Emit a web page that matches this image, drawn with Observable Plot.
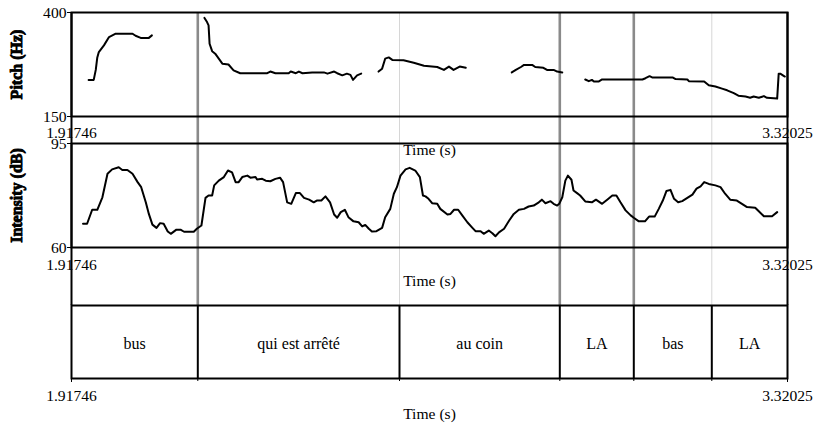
<!DOCTYPE html>
<html><head><meta charset="utf-8">
<script src="https://cdn.jsdelivr.net/npm/d3@7"></script>
<script src="https://cdn.jsdelivr.net/npm/@observablehq/plot@0.6"></script>
<style>
html,body{margin:0;padding:0;background:#fff;}
#chart{position:relative;width:814px;height:425px;overflow:hidden;background:#fff;}
#chart svg{position:absolute;left:0;top:0;background:transparent;}
#chart svg text{font-family:'Liberation Serif','Times New Roman',serif;}
</style></head><body><div id="chart"></div>
<script>
// ---- data ----
const tStart = 1.91746, tEnd = 3.32025;
const timeTicks = [tStart, tEnd];
const pitchTicks = [150, 400];
const intensityTicks = [60, 95];
const timeLabel = "Time (s)";
const pitchLabel = "Pitch (Hz)";
const intensityLabel = "Intensity (dB)";

const tierLabels = ["bus", "qui est arrêté", "au coin", "LA", "bas", "LA"];
const tierBounds = [1.91746, 2.16491, 2.56008, 2.87414, 3.01912, 3.17194, 3.32025];
const majorBoundaries = [2.16491, 2.87414, 3.01912];
const minorBoundaries = [2.56008, 3.17194];

const pitchSeg1 = [[1.951,238],[1.961,238],[1.965,262],[1.968,292],[1.971,305],[1.981,321],[1.991,341],[2.004,349],[2.037,349],[2.043,344],[2.053,339],[2.069,339],[2.075,345]];
const pitchSeg2 = [[2.178,387],[2.183,377],[2.186,369],[2.188,325],[2.193,307],[2.199,301],[2.206,289],[2.213,277],[2.225,275],[2.235,261],[2.248,254],[2.301,254],[2.307,258],[2.317,254],[2.343,254],[2.347,258],[2.357,254],[2.363,258],[2.370,254],[2.389,256],[2.412,256],[2.419,253],[2.432,258],[2.438,254],[2.448,249],[2.457,253],[2.464,250],[2.469,238],[2.477,249],[2.485,253]];
const pitchSeg3 = [[2.519,258],[2.526,265],[2.532,289],[2.539,292],[2.546,286],[2.568,285],[2.588,279],[2.608,272],[2.634,269],[2.647,262],[2.657,270],[2.666,262],[2.678,270],[2.690,267]];
const pitchSeg4 = [[2.780,256],[2.788,262],[2.798,269],[2.804,274],[2.820,274],[2.826,269],[2.842,267],[2.849,262],[2.862,262],[2.869,258],[2.879,256]];
const pitchSeg5 = [[2.924,239],[2.931,235],[2.937,238],[2.941,234],[2.950,234],[2.957,239],[3.036,239],[3.042,242],[3.050,247],[3.055,244],[3.095,244],[3.101,240],[3.124,239],[3.127,235],[3.157,234],[3.166,225],[3.179,222],[3.192,217],[3.202,213],[3.215,206],[3.224,200],[3.238,198],[3.247,195],[3.254,198],[3.264,195],[3.274,199],[3.280,195],[3.300,193],[3.303,253],[3.306,253],[3.315,246]];

const intensityPoints = [[1.940,68.0],[1.948,68.0],[1.958,72.7],[1.968,72.7],[1.978,76.9],[1.988,84.8],[1.997,86.3],[2.010,87.0],[2.017,86.1],[2.027,86.1],[2.037,84.8],[2.047,82.0],[2.054,80.3],[2.063,75.2],[2.069,71.3],[2.076,67.7],[2.084,66.6],[2.091,68.2],
[2.098,68.0],[2.106,65.4],[2.112,64.6],[2.123,66.0],[2.131,66.0],[2.138,65.3],[2.157,65.3],[2.163,66.3],[2.172,67.4],[2.180,76.7],[2.186,77.5],[2.193,77.5],[2.197,80.9],[2.206,82.5],[2.216,83.7],[2.224,85.9],[2.232,85.3],[2.239,82.0],[2.245,82.0],[2.252,83.7],[2.262,84.2],[2.268,83.5],[2.278,83.7],[2.281,82.9],[2.291,83.1],[2.298,82.5],[2.307,82.3],[2.317,83.1],[2.326,83.5],[2.332,82.0],[2.340,75.2],[2.348,74.7],[2.357,78.3],[2.365,78.3],[2.373,76.7],[2.383,76.1],[2.392,75.2],[2.398,75.8],[2.407,75.8],[2.415,77.2],[2.424,75.2],[2.432,71.1],[2.438,70.0],[2.445,71.9],[2.453,72.7],
[2.460,70.2],[2.470,68.8],[2.480,68.5],[2.487,67.1],[2.493,67.6],[2.500,66.3],[2.506,65.4],[2.515,65.5],[2.526,66.6],[2.532,70.2],[2.542,73.0],[2.549,78.1],[2.555,80.3],[2.562,84.2],[2.572,86.3],[2.580,86.8],[2.591,85.9],[2.600,83.7],[2.606,77.5],[2.611,77.2],[2.617,76.4],[2.624,74.9],[2.634,74.7],[2.640,73.0],[2.654,71.1],[2.660,71.3],[2.667,72.7],[2.675,72.7],[2.683,70.8],[2.693,68.5],[2.703,66.6],[2.709,65.5],[2.719,65.5],[2.725,64.6],[2.735,65.7],[2.742,64.8],[2.748,63.8],[2.755,65.1],[2.765,66.3],[2.775,69.1],[2.784,71.3],[2.794,72.7],[2.804,73.0],
[2.813,73.8],[2.823,74.1],[2.833,75.2],[2.839,76.1],[2.846,74.9],[2.856,75.6],[2.862,74.7],[2.869,74.1],[2.873,74.7],[2.879,76.9],[2.885,82.5],[2.890,84.2],[2.897,82.8],[2.901,79.2],[2.908,78.3],[2.914,77.5],[2.924,75.5],[2.937,75.2],[2.945,76.1],[2.957,74.7],[2.967,76.1],[2.977,77.5],[2.985,77.5],[2.993,75.2],[3.003,72.5],[3.013,70.8],[3.019,70.0],[3.029,68.8],[3.041,68.8],[3.049,70.4],[3.060,70.4],[3.068,73.0],[3.076,75.8],[3.083,79.0],[3.091,79.4],[3.098,76.4],[3.106,75.2],[3.114,75.6],[3.124,76.7],[3.134,77.8],[3.142,79.8],[3.150,80.6],[3.157,82.0],
[3.166,81.4],[3.179,80.9],[3.189,80.3],[3.198,78.1],[3.208,76.1],[3.221,75.8],[3.231,74.7],[3.241,73.6],[3.257,73.4],[3.264,72.2],[3.274,70.5],[3.290,70.5],[3.300,71.9]];

// ---- derived tables ----
const pitchSegments = [pitchSeg1, pitchSeg2, pitchSeg3, pitchSeg4, pitchSeg5];
const pitchData = pitchSegments.flatMap((s, i) => s.map(([t, hz]) => ({t, hz, seg: i})));
const intensityData = intensityPoints.map(([t, db]) => ({t, db}));
const intervals = tierLabels.map((label, i) => ({label, start: tierBounds[i], end: tierBounds[i + 1]}));

// ---- layout ----
const W = 814, H = 425, ML = 71, MR = 27;
const FONT = "'Liberation Serif', 'Times New Roman', serif";
const fmtT = d => d.toFixed(5);
function base(top, bottom) {
  return {
    width: W, height: H, marginLeft: ML, marginRight: MR, marginTop: top, marginBottom: bottom,
    style: {fontFamily: FONT, fontSize: "15.6px", color: "black", background: "transparent", overflow: "visible"}
  };
}
const sideLabel = (txt) => Plot.text([txt], {text: d => d, frameAnchor: "left", dx: -55, rotate: -90, textAnchor: "middle", lineAnchor: "middle", fontFamily: FONT, fontWeight: "bold", fontSize: 16, fill: "black", stroke: "black", strokeWidth: 0.9});
const timeText = (dy) => Plot.text([timeLabel], {text: d => d, frameAnchor: "bottom", lineAnchor: "top", dy, fontFamily: FONT, fontSize: 15.6, fontWeight: "normal", fill: "black"});

const grid = Plot.plot({
  ...base(12, 120),
  x: {domain: [tStart, tEnd], axis: null},
  marks: [
    Plot.ruleX(minorBoundaries, {stroke: "#d6d6d6", strokeWidth: 1}),
    Plot.ruleX(majorBoundaries, {stroke: "#8a8a8a", strokeWidth: 2.6}),
    Plot.ruleX(timeTicks, {stroke: "black", strokeWidth: 2})
  ]
});

const pitch = Plot.plot({
  ...base(12, H - 116),
  x: {domain: [tStart, tEnd]},
  y: {domain: pitchTicks},
  marks: [
    Plot.frame({stroke: "black", strokeWidth: 2}),
    Plot.axisY(pitchTicks, {tickSize: 4, tickPadding: 1, tickFormat: d => String(d), label: null}),
    Plot.axisX(timeTicks, {tickSize: 4, tickPadding: 6.5, tickFormat: fmtT, label: null}),
    Plot.line(pitchData, {x: "t", y: "hz", z: "seg", stroke: "black", strokeWidth: 2}),
    timeText(27.3),
    sideLabel(pitchLabel)
  ]
});

const intensity = Plot.plot({
  ...base(143, H - 247),
  x: {domain: [tStart, tEnd]},
  y: {domain: intensityTicks},
  marks: [
    Plot.frame({stroke: "black", strokeWidth: 2}),
    Plot.axisY(intensityTicks, {tickSize: 4, tickPadding: 1, tickFormat: d => String(d), label: null}),
    Plot.axisX(timeTicks, {tickSize: 4, tickPadding: 7, tickFormat: fmtT, label: null}),
    Plot.line(intensityData, {x: "t", y: "db", stroke: "black", strokeWidth: 2}),
    timeText(27.3),
    sideLabel(intensityLabel)
  ]
});

const tier = Plot.plot({
  ...base(305, H - 378),
  x: {domain: [tStart, tEnd]},
  marks: [
    Plot.ruleX(tierBounds.slice(1, -1), {stroke: "black", strokeWidth: 2}),
    Plot.frame({stroke: "black", strokeWidth: 2}),
    Plot.axisX(tierBounds.slice(1, -1), {tickSize: 3, tickFormat: () => "", label: null}),
    Plot.axisX(timeTicks, {tickSize: 4, tickPadding: 7.5, tickFormat: fmtT, label: null}),
    Plot.text(intervals, {x: d => (d.start + d.end) / 2, text: "label", fontFamily: FONT, fontSize: 16, dy: 1.5, fill: "black"}),
    timeText(29.6)
  ]
});

const el = document.getElementById("chart");
[grid, pitch, intensity, tier].forEach(s => el.appendChild(s));
</script>
</body></html>
